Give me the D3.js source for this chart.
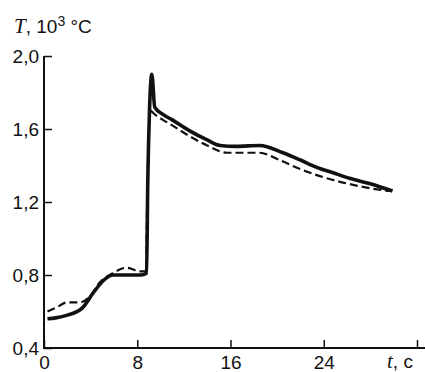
<!DOCTYPE html>
<html>
<head>
<meta charset="utf-8">
<script src="https://cdn.jsdelivr.net/npm/d3@7"></script>
<style>
  body { margin: 0; background: #fff; }
  svg { display: block; }
</style>
</head>
<body>
<div id="chart"></div>
<script>
// time, s
const solidT = [0.3, 1.0, 2.0, 3.3, 4.2, 5.1, 5.9, 6.8, 7.6, 8.3, 8.8, 8.9, 9.05, 9.25, 9.5, 10.2, 11.0, 12.5, 14.0, 15.1, 16.5, 18.5, 20.5, 22.0, 23.4, 24.8, 26.2, 28.0, 29.9];
// temperature, 10^3 °C
const solidV = [0.56, 0.565, 0.58, 0.62, 0.70, 0.77, 0.80, 0.80, 0.80, 0.80, 0.81, 1.30, 1.70, 1.90, 1.72, 1.68, 1.65, 1.59, 1.54, 1.51, 1.505, 1.51, 1.47, 1.43, 1.39, 1.36, 1.33, 1.30, 1.26];

const dashT = [0.3, 1.0, 2.0, 3.1, 3.9, 4.8, 5.9, 7.1, 8.2, 8.75, 8.85, 9.1, 9.5, 10.2, 11.0, 12.5, 14.0, 15.7, 16.5, 18.5, 20.2, 22.0, 24.0, 26.8, 28.0, 29.6];
const dashV = [0.60, 0.62, 0.65, 0.65, 0.68, 0.76, 0.81, 0.84, 0.82, 0.82, 1.20, 1.70, 1.68, 1.65, 1.62, 1.56, 1.51, 1.47, 1.47, 1.47, 1.43, 1.38, 1.335, 1.29, 1.275, 1.26];

const xTicks = [0, 8, 16, 24, 32];
const yTicks = [0.4, 0.8, 1.2, 1.6, 2.0];

const w = 425;
const h = 372;

const svg = d3.select('#chart')
  .append('svg')
  .attr('width', w)
  .attr('height', h);

const x = d3.scaleLinear().domain([0, 32]).range([44, 417]);
const y = d3.scaleLinear().domain([0.4, 2.0]).range([348, 56]);

const fmt = v => d3.format('.1f')(v).replace('.', ',');
const font = '"Liberation Sans", Arial, sans-serif';
const serif = '"Liberation Serif", "Times New Roman", serif';

// axes, ticks point inward
const xAxis = d3.axisBottom(x)
  .tickValues(xTicks)
  .tickSize(-8)
  .tickPadding(11)
  .tickFormat(d => (d === 32 ? '' : d));

const yAxis = d3.axisLeft(y)
  .tickValues(yTicks)
  .tickSize(-8)
  .tickPadding(5)
  .tickFormat(fmt);

const gx = svg.append('g')
  .attr('transform', `translate(0,${y(0.4)})`)
  .call(xAxis);
gx.select('.domain').attr('d', `M${x(0) - 1},0H${w}`);

const gy = svg.append('g')
  .attr('transform', `translate(${x(0)},0)`)
  .call(yAxis);
gy.select('.domain').attr('d', `M0,${y(2.0)}V${y(0.4) + 1}`);

svg.selectAll('.domain').attr('stroke', '#111').attr('stroke-width', 2);
svg.selectAll('.tick line').attr('stroke', '#111').attr('stroke-width', 1.5);
svg.selectAll('.tick text')
  .attr('font-family', font)
  .attr('font-size', 19)
  .attr('fill', '#111');
gx.selectAll('.tick text').attr('dy', '0.55em');

// axis titles
const yTitle = svg.append('text')
  .attr('x', 14)
  .attr('y', 33)
  .attr('font-family', font)
  .attr('font-size', 19)
  .attr('fill', '#111');
yTitle.append('tspan').attr('font-family', serif).attr('font-style', 'italic').attr('font-size', 21).text('T');
yTitle.append('tspan').text(', 10');
yTitle.append('tspan').attr('dy', -7).attr('font-size', 14).text('3');
yTitle.append('tspan').attr('dy', 7).text(' °C');

const xTitle = svg.append('text')
  .attr('x', 387)
  .attr('y', 368)
  .attr('font-family', font)
  .attr('font-size', 19)
  .attr('fill', '#111');
xTitle.append('tspan').attr('font-family', serif).attr('font-style', 'italic').attr('font-size', 21).text('t');
xTitle.append('tspan').text(', c');

// curves
const line = d3.line()
  .x(d => x(d[0]))
  .y(d => y(d[1]))
  .curve(d3.curveMonotoneX);

svg.append('path')
  .datum(dashT.map((t, i) => [t, dashV[i]]))
  .attr('d', line)
  .attr('fill', 'none')
  .attr('stroke', '#111')
  .attr('stroke-width', 2.2)
  .attr('stroke-dasharray', '8,4');

svg.append('path')
  .datum(solidT.map((t, i) => [t, solidV[i]]))
  .attr('d', line)
  .attr('fill', 'none')
  .attr('stroke', '#111')
  .attr('stroke-width', 3.6)
  .attr('stroke-linejoin', 'round');
</script>
</body>
</html>
